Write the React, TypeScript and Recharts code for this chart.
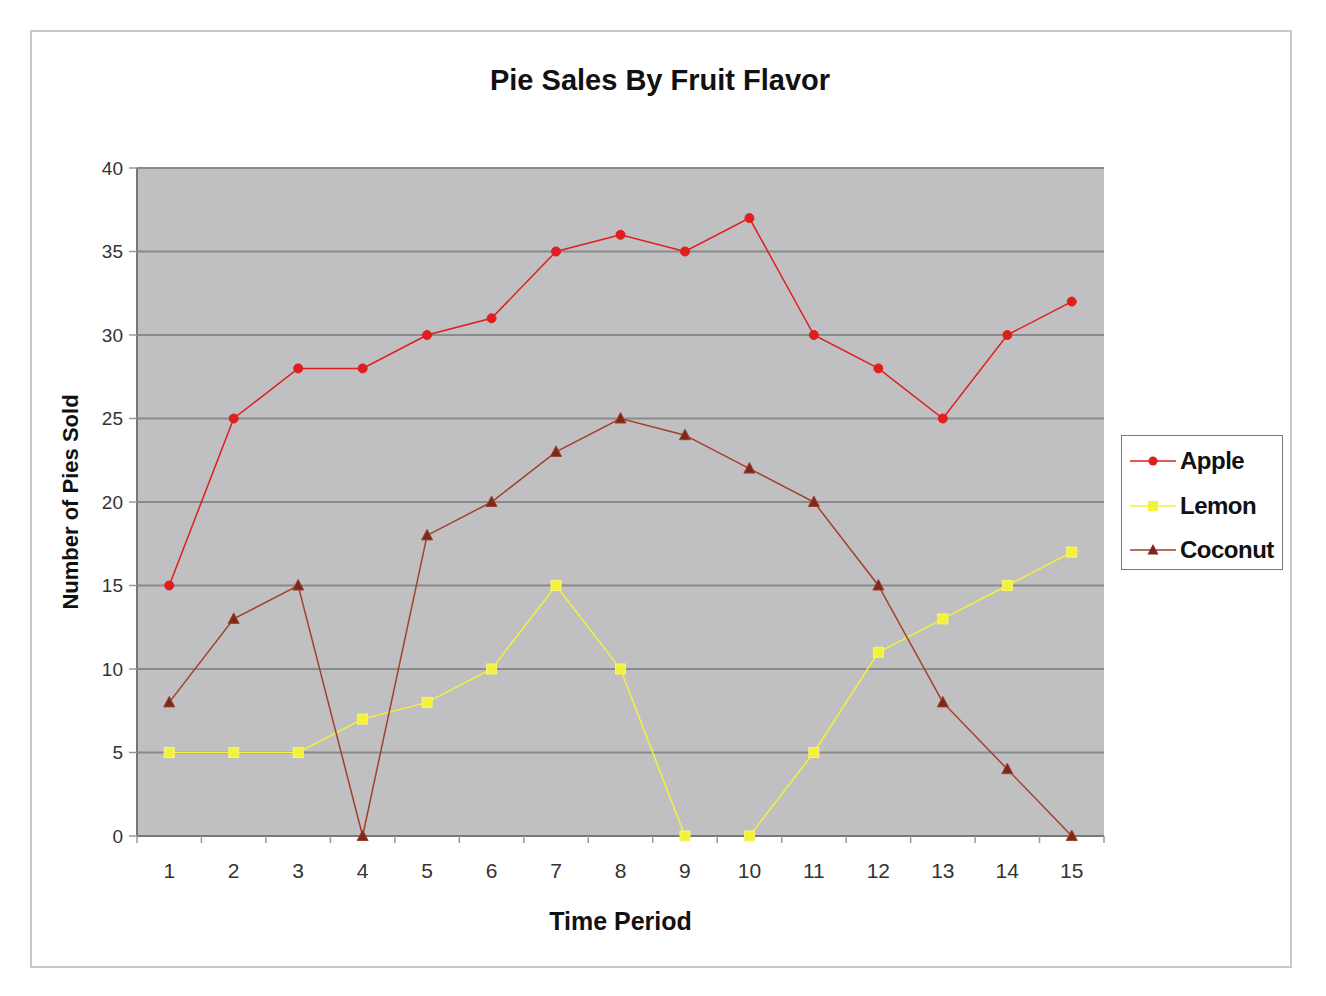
import { ComposedChart, Line, XAxis, YAxis, CartesianGrid } from 'recharts';

const PERIODS = [1, 2, 3, 4, 5, 6, 7, 8, 9, 10, 11, 12, 13, 14, 15];
const APPLE = [15, 25, 28, 28, 30, 31, 35, 36, 35, 37, 30, 28, 25, 30, 32];
const LEMON = [5, 5, 5, 7, 8, 10, 15, 10, 0, 0, 5, 11, 13, 15, 17];
const COCONUT = [8, 13, 15, 0, 18, 20, 23, 25, 24, 22, 20, 15, 8, 4, 0];
const Y_TICKS = [0, 5, 10, 15, 20, 25, 30, 35, 40];
const BOUNDARY_TICKS = [0.5, 1.5, 2.5, 3.5, 4.5, 5.5, 6.5, 7.5, 8.5, 9.5, 10.5, 11.5, 12.5, 13.5, 14.5, 15.5];

const data = PERIODS.map((p, i) => ({ period: p, Apple: APPLE[i], Lemon: LEMON[i], Coconut: COCONUT[i] }));
const X_TICKS = [...BOUNDARY_TICKS, ...PERIODS].sort((a, b) => a - b);

const FONT = '"Liberation Sans", Arial, sans-serif';
const APPLE_C = '#e01e1e';
const LEMON_C = '#f2f23a';
const COCONUT_C = '#a3402c';

const CircleDot = (props: any) => {
  const { cx, cy, key } = props;
  if (cx == null || cy == null) return null;
  return <circle key={key} cx={cx} cy={cy} r={4.5} fill={APPLE_C} stroke={APPLE_C} />;
};

const SquareDot = (props: any) => {
  const { cx, cy, key } = props;
  if (cx == null || cy == null) return null;
  return <rect key={key} x={cx - 5} y={cy - 5} width={10} height={10} fill={LEMON_C} stroke="#f8f870" />;
};

const TriDot = (props: any) => {
  const { cx, cy, key } = props;
  if (cx == null || cy == null) return null;
  return <path key={key} d={`M${cx},${cy - 6} L${cx + 5.5},${cy + 4.5} L${cx - 5.5},${cy + 4.5} Z`} fill="#7a2a1c" stroke={COCONUT_C} />;
};

// integer values get a label, half values get a short tick mark (Excel-style category boundaries)
const XTick = (props: any) => {
  const { x, y, payload } = props;
  const v = payload.value;
  if (Number.isInteger(v)) {
    return (
      <text x={x} y={y + 42} textAnchor="middle" fontFamily={FONT} fontSize={21} fill="#333">
        {v}
      </text>
    );
  }
  return <line x1={x} y1={y} x2={x} y2={y + 7} stroke="#999" strokeWidth={1.5} />;
};

const LegendBox = () => {
  const items = [
    { name: 'Apple', color: APPLE_C, kind: 'c' },
    { name: 'Lemon', color: LEMON_C, kind: 's' },
    { name: 'Coconut', color: COCONUT_C, kind: 't' },
  ];
  return (
    <div style={{ width: 162, height: 135, border: '1.5px solid #777', background: '#fff', boxSizing: 'border-box', paddingTop: 3 }}>
      {items.map((it) => (
        <div key={it.name} style={{ display: 'flex', alignItems: 'center', height: 44.5 }}>
          <svg width={50} height={20} style={{ marginLeft: 6 }}>
            <line x1={2} y1={10} x2={48} y2={10} stroke={it.color} strokeWidth={1.5} />
            {it.kind === 'c' && <circle cx={25} cy={10} r={4.5} fill={it.color} />}
            {it.kind === 's' && <rect x={20} y={5} width={10} height={10} fill={it.color} />}
            {it.kind === 't' && <path d="M25,4 L30.5,14.5 L19.5,14.5 Z" fill="#7a2a1c" />}
          </svg>
          <span style={{ fontFamily: FONT, fontSize: 24, fontWeight: 'bold', color: '#111', marginLeft: 2, letterSpacing: -0.5 }}>{it.name}</span>
        </div>
      ))}
    </div>
  );
};

export default function App() {
  return (
    <div style={{ position: 'absolute', left: 0, top: 0, width: 1326, height: 996, background: '#fff' }}>
      <div style={{ position: 'absolute', left: 30, top: 30, width: 1262, height: 938, border: '2px solid #c8c8c8', boxSizing: 'border-box' }} />
      <div style={{ position: 'absolute', left: 0, top: 64, width: 1320, textAlign: 'center', fontFamily: FONT, fontWeight: 'bold', fontSize: 29, color: '#111' }}>
        Pie Sales By Fruit Flavor
      </div>
      <div style={{ position: 'absolute', left: 0, top: 0 }}>
        <ComposedChart width={1326} height={996} data={data} margin={{ top: 168, right: 222, bottom: 60, left: 58 }}>
          <CartesianGrid horizontal vertical={false} stroke="#8a8a8a" strokeWidth={2} fill="#c0bfc1" fillOpacity={1} />
          <XAxis
            dataKey="period"
            type="number"
            domain={[0.5, 15.5]}
            ticks={X_TICKS}
            interval={0}
            tickLine={false}
            tickSize={0}
            tickMargin={0}
            height={100}
            axisLine={{ stroke: '#777', strokeWidth: 2 }}
            tick={<XTick />}
            label={{ value: 'Time Period', position: 'insideBottom', offset: 6, style: { fontFamily: FONT, fontWeight: 'bold', fontSize: 25, fill: '#111' } }}
          />
          <YAxis
            domain={[0, 40]}
            ticks={Y_TICKS}
            width={79}
            tickSize={8}
            tickLine={{ stroke: '#999', strokeWidth: 1.5 }}
            axisLine={{ stroke: '#777', strokeWidth: 2 }}
            tick={{ fontFamily: FONT, fontSize: 19, fill: '#333' }}
            tickMargin={6}
            label={{ value: 'Number of Pies Sold', angle: -90, position: 'insideLeft', offset: 12, style: { textAnchor: 'middle', fontFamily: FONT, fontWeight: 'bold', fontSize: 22, fill: '#111' } }}
          />
          <Line dataKey="Apple" stroke={APPLE_C} strokeWidth={1.5} dot={<CircleDot />} isAnimationActive={false} />
          <Line dataKey="Lemon" stroke={LEMON_C} strokeWidth={1.5} dot={<SquareDot />} isAnimationActive={false} />
          <Line dataKey="Coconut" stroke={COCONUT_C} strokeWidth={1.5} dot={<TriDot />} isAnimationActive={false} />
        </ComposedChart>
      </div>
      <div style={{ position: 'absolute', left: 1121, top: 435 }}>
        <LegendBox />
      </div>
    </div>
  );
}
